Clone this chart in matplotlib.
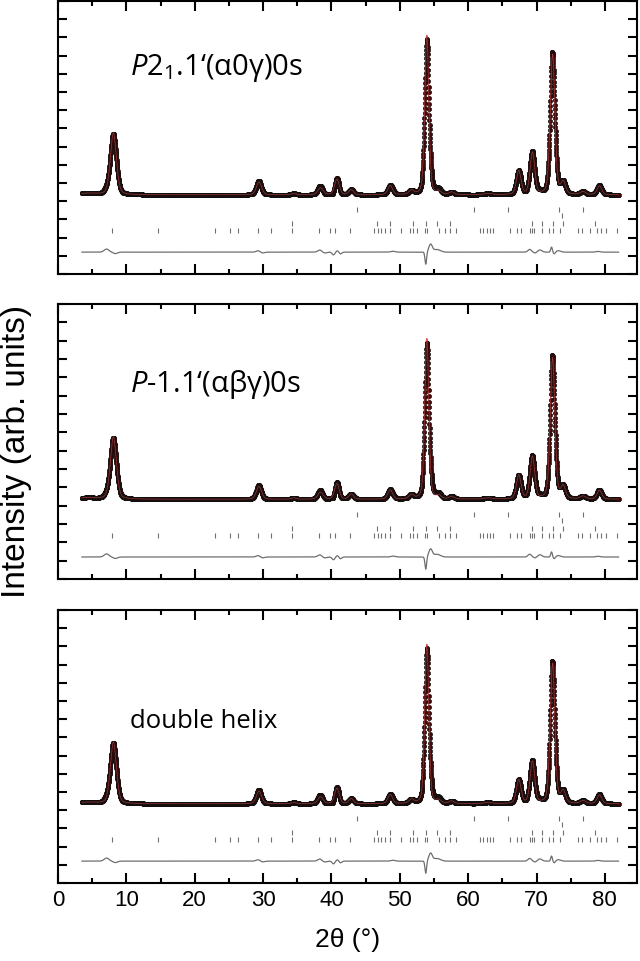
import numpy as np
import matplotlib
matplotlib.use("Agg")
import matplotlib.pyplot as plt
from matplotlib import font_manager
from matplotlib.ticker import MultipleLocator

# Bragg peaks: position (deg 2theta), height above background, fwhm (deg)
peak_pos = [4.3, 8.1, 29.4, 34.5, 38.4, 40.8, 42.9, 48.6, 51.7, 53.95, 55.7,
            57.6, 62.9, 67.4, 69.4, 72.35, 73.9, 76.8, 79.2]
peak_height = [0.08, 3.4, 0.7, 0.07, 0.38, 0.85, 0.28, 0.5, 0.22, 8.75, 0.16,
               0.14, 0.07, 1.3, 2.3, 7.7, 0.65, 0.16, 0.48]
peak_fwhm = [3.0, 1.05, 0.9, 0.8, 0.9, 0.8, 0.8, 0.8, 0.8, 0.7, 0.8,
             0.8, 1.2, 0.8, 0.8, 0.8, 0.8, 0.9, 0.8]
background = 4.35

# obs - calc wiggles: position, amplitude, width (sigma)
diff_pos = [7.1, 8.4, 29.3, 29.9, 38.3, 39.0, 40.3, 40.9, 41.3, 49.0,
            53.8, 54.5, 55.4, 69.0, 69.8, 70.5, 72.2, 72.6, 73.2, 79.0]
diff_amp = [0.17, -0.08, 0.08, -0.05, 0.12, -0.05, -0.15, 0.08, -0.1, 0.05,
            -0.67, 0.42, 0.15, 0.15, -0.05, 0.12, 0.28, -0.1, 0.08, 0.04]
diff_sig = [0.35, 0.3, 0.3, 0.3, 0.3, 0.3, 0.2, 0.2, 0.2, 0.3,
            0.12, 0.25, 0.5, 0.25, 0.2, 0.3, 0.12, 0.15, 0.3, 0.3]
diff_offset = 1.2

# reflection markers (three rows)
ticks_a = [43.7, 60.8, 65.9, 73.3, 76.8]
ticks_a2 = [73.8]
ticks_b = [34.2, 46.6, 48.5, 51.9, 53.8, 55.4, 57.4, 69.3, 70.8, 72.4, 73.9, 78.6]
ticks_c = [7.9, 14.7, 22.9, 25.1, 26.4, 29.2, 31.1, 34.2, 38.2, 39.8, 40.5, 42.7,
           46.3, 46.8, 47.3, 47.8, 48.5, 50.2, 51.5, 51.9, 52.5, 53.7, 54.0,
           55.8, 56.6, 57.3, 58.2, 61.7, 62.2, 62.7, 63.2, 63.6, 66.1, 67.1, 67.8,
           69.0, 69.3, 69.6, 70.8, 71.9, 72.4, 73.4, 76.1, 76.7, 77.8, 78.8,
           79.5, 80.1, 81.8]
row_y = [3.56, 3.23, 2.79, 2.41]

labels = [r"$\mathit{P}$2$_1$.1‘(α0γ)0s", r"$\mathit{P}$-1.1‘(αβγ)0s", "double helix"]
label_y = [0.755, 0.709, 0.59]
label_size = [21, 21, 18.5]

tt = np.arange(3.5, 82.0001, 0.02)


def pseudo_voigt(x, p, h, w, eta=0.3):
    u = (x - p) / w
    return h * (eta / (1 + 4 * u ** 2) + (1 - eta) * np.exp(-4 * np.log(2) * u ** 2))


calc = np.full_like(tt, background)
for p, h, w in zip(peak_pos, peak_height, peak_fwhm):
    calc += pseudo_voigt(tt, p, h, w)
diff = np.zeros_like(tt)
for p, a, s in zip(diff_pos, diff_amp, diff_sig):
    diff += a * np.exp(-0.5 * ((tt - p) / s) ** 2)
obs = calc + diff

names = {f.name for f in font_manager.fontManager.ttflist}
if 'Liberation Sans Narrow' in names:
    narrow, tick_size, xlab_size = 'Liberation Sans Narrow', 18, 21
else:
    narrow, tick_size, xlab_size = 'Liberation Sans', 16, 19

plt.rcParams['mathtext.fontset'] = 'custom'
plt.rcParams['mathtext.rm'] = 'Open Sans'
plt.rcParams['mathtext.it'] = 'Open Sans:italic'

fig = plt.figure(figsize=(6.4, 9.61), dpi=100)
boxes = [(0.7149, 0.2841), (0.3975, 0.2862), (0.0812, 0.2841)]
for i, (b, h) in enumerate(boxes):
    ax = fig.add_axes([0.0906, b, 0.9047, h])
    ax.plot(tt, calc, color='#e05555', lw=1.0, zorder=1)
    ax.plot(tt, obs, 'o', ms=3.0, mfc='#4d0606', mec='#111111', mew=0.5, zorder=2)
    ax.plot(tt, calc, color='#e05555', lw=0.5, alpha=0.6, zorder=3)
    ax.plot(tt, diff + diff_offset, color='#6e6e6e', lw=0.9)
    for row, y in zip([ticks_a, ticks_a2, ticks_b, ticks_c], row_y):
        ax.plot(row, [y] * len(row), '|', color='#707070', ms=3.6, mew=0.8)
    ax.text(10.6, label_y[i], labels[i], transform=ax.get_xaxis_transform(),
            fontsize=label_size[i], family=['Open Sans', 'DejaVu Sans'], va='center')
    ax.set_xlim(0, 84.7)
    ax.set_ylim(0, 15)
    ax.xaxis.set_major_locator(MultipleLocator(10))
    ax.xaxis.set_minor_locator(MultipleLocator(5))
    ax.yaxis.set_major_locator(MultipleLocator(1))
    ax.tick_params(which='both', direction='in', top=True, right=True, width=1.5,
                   labelleft=False, labelbottom=(i == 2), labelsize=tick_size, pad=5)
    ax.tick_params(axis='x', which='major', length=7)
    ax.tick_params(axis='x', which='minor', length=3.6)
    ax.tick_params(axis='y', which='major', length=6.5)
    for s in ax.spines.values():
        s.set_linewidth(1.5)
    for t in ax.get_xticklabels():
        t.set_family(narrow)
    if i == 2:
        ax.set_xlabel("2θ (°)", fontsize=xlab_size, family=narrow, labelpad=12)

fig.text(0.026, 0.53, "Intensity (arb. units)", rotation=90, fontsize=24,
         family='Liberation Sans', ha='center', va='center')
fig.savefig("out.png", dpi=100)
